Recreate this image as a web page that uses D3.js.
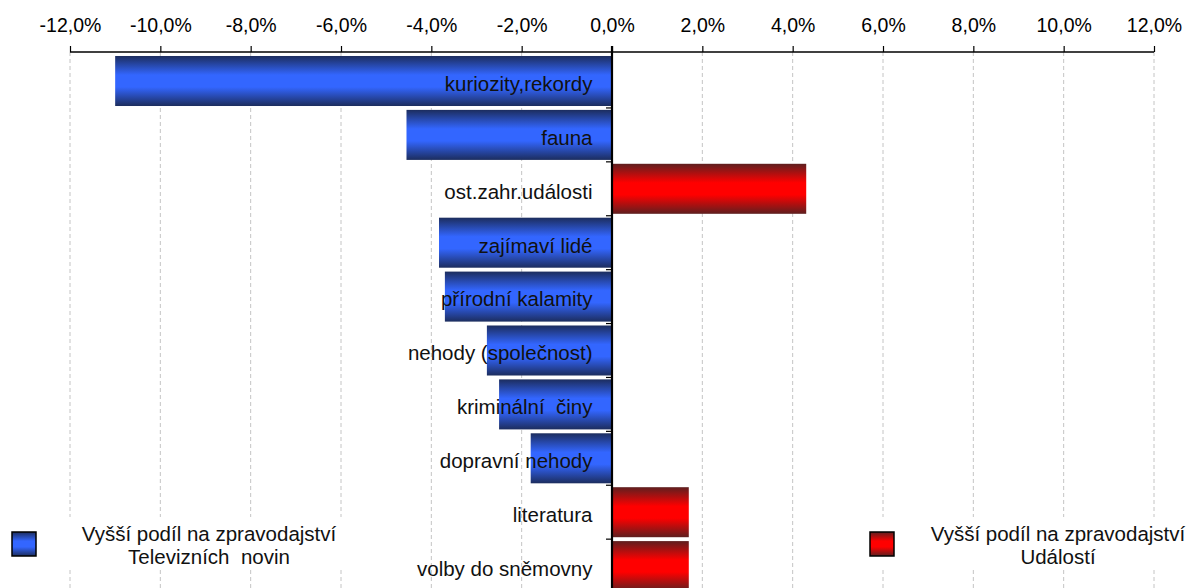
<!DOCTYPE html>
<html>
<head>
<meta charset="utf-8">
<script src="https://cdn.jsdelivr.net/npm/d3@7"></script>
<style>
  html, body { margin: 0; padding: 0; background: #fff; }
  svg { display: block; font-family: "Liberation Sans", Arial, sans-serif; }
</style>
</head>
<body>
<svg id="chart" width="1188" height="588"></svg>
<script>
// ---- data ----
const categories = [
  "kuriozity,rekordy",
  "fauna",
  "ost.zahr.události",
  "zajímaví lidé",
  "přírodní kalamity",
  "nehody (společnost)",
  "kriminální  činy",
  "dopravní nehody",
  "literatura",
  "volby do sněmovny"
];
const values = [-11.0, -4.55, 4.3, -3.83, -3.7, -2.77, -2.5, -1.8, 1.7, 1.7];
const tickValues = [-12, -10, -8, -6, -4, -2, 0, 2, 4, 6, 8, 10, 12];
const seriesNames = [
  ["Vyšší podíl na zpravodajství", "Televizních  novin"],
  ["Vyšší podíl na zpravodajství", "Událostí"]
];

// ---- layout ----
const W = 1188, H = 588;
const x0 = 70, x1 = 1154, axisY = 52;
const svg = d3.select("#chart");

const x = d3.scaleLinear().domain([-12, 12]).range([x0, x1]);
const step = 53.9;
const y = d3.scaleBand()
  .domain(categories)
  .range([axisY + 2.05, axisY + 2.05 + step * categories.length])
  .paddingInner(0.072)
  .paddingOuter(0.036);

const loc = d3.formatLocale({decimal: ",", thousands: " ", grouping: [3], currency: ["", ""], minus: "-"});
const fmt = loc.format(".1f");

// gradients
const defs = svg.append("defs");
function grad(id, edge, mid) {
  const g = defs.append("linearGradient").attr("id", id)
    .attr("x1", 0).attr("y1", 0).attr("x2", 0).attr("y2", 1);
  [[0, edge], [0.38, mid], [0.5, mid], [0.62, mid], [1, edge]].forEach(([o, c]) =>
    g.append("stop").attr("offset", o).attr("stop-color", c));
}
grad("gBlue", "#1c2d5e", "#3366ff");
grad("gRed", "#5e1f1f", "#ff0000");

// gridlines
svg.append("g").selectAll("line").data(tickValues.filter(d => d !== 0)).join("line")
  .attr("x1", d => x(d)).attr("x2", d => x(d))
  .attr("y1", axisY).attr("y2", H)
  .attr("stroke", "#c4c4c4").attr("stroke-width", 1)
  .attr("stroke-dasharray", "4,3");

// legend backgrounds (hide gridlines)
svg.append("rect").attr("x", 0).attr("y", 517).attr("width", 400).attr("height", 51).attr("fill", "#fff");
svg.append("rect").attr("x", 860).attr("y", 517).attr("width", 328).attr("height", 51).attr("fill", "#fff");

// bars
svg.append("g").selectAll("rect").data(categories).join("rect")
  .attr("x", (d, i) => x(Math.min(0, values[i])))
  .attr("width", (d, i) => Math.abs(x(values[i]) - x(0)))
  .attr("y", d => y(d))
  .attr("height", y.bandwidth())
  .attr("fill", (d, i) => values[i] < 0 ? "url(#gBlue)" : "url(#gRed)");

// category labels
svg.append("g").selectAll("text").data(categories).join("text")
  .attr("x", x(0) - 19.5)
  .attr("y", d => y(d) + y.bandwidth() / 2)
  .attr("dy", "0.48em")
  .attr("text-anchor", "end")
  .attr("font-size", 20.5)
  .attr("fill", "#111")
  .style("white-space", "pre")
  .text(d => d);

// top axis
const xAxis = d3.axisTop(x).tickValues(tickValues).tickSize(6).tickPadding(14).tickFormat(d => fmt(d) + "%");
const gx = svg.append("g").attr("transform", `translate(0,${axisY})`).call(xAxis);
gx.select(".domain").attr("stroke", "#000").attr("stroke-width", 1.6).attr("d", `M${x0},0H${x1}`);
gx.selectAll(".tick line").attr("stroke", "#000").attr("stroke-width", 1.2);
gx.selectAll(".tick text").attr("font-size", 19.5).attr("fill", "#000")
  .attr("font-family", "Liberation Sans, Arial, sans-serif");

// zero vertical axis with band-boundary ticks
const bounds = categories.slice(1).map(c => y(c) - (y.step() - y.bandwidth()) / 2);
svg.append("g").selectAll("line").data(bounds).join("line")
  .attr("x1", x(0) - 6).attr("x2", x(0)).attr("y1", d => d).attr("y2", d => d)
  .attr("stroke", "#000").attr("stroke-width", 1.2);
svg.append("line").attr("x1", x(0)).attr("x2", x(0)).attr("y1", axisY - 6).attr("y2", H)
  .attr("stroke", "#000").attr("stroke-width", 2.2);

// legends
function legend(sx, tx, fillId, lines) {
  svg.append("rect").attr("x", sx).attr("y", 532).attr("width", 24).attr("height", 24)
    .attr("fill", `url(#${fillId})`).attr("stroke", "#000").attr("stroke-width", 1.5);
  const t = svg.append("text").attr("x", tx).attr("y", 541).attr("text-anchor", "middle")
    .attr("font-size", 20.5).attr("fill", "#111").style("white-space", "pre");
  lines.forEach((l, i) => t.append("tspan").attr("x", tx).attr("dy", i === 0 ? 0 : 22.5).text(l));
}
legend(12, 209, "gBlue", seriesNames[0]);
legend(870, 1058, "gRed", seriesNames[1]);
</script>
</body>
</html>
